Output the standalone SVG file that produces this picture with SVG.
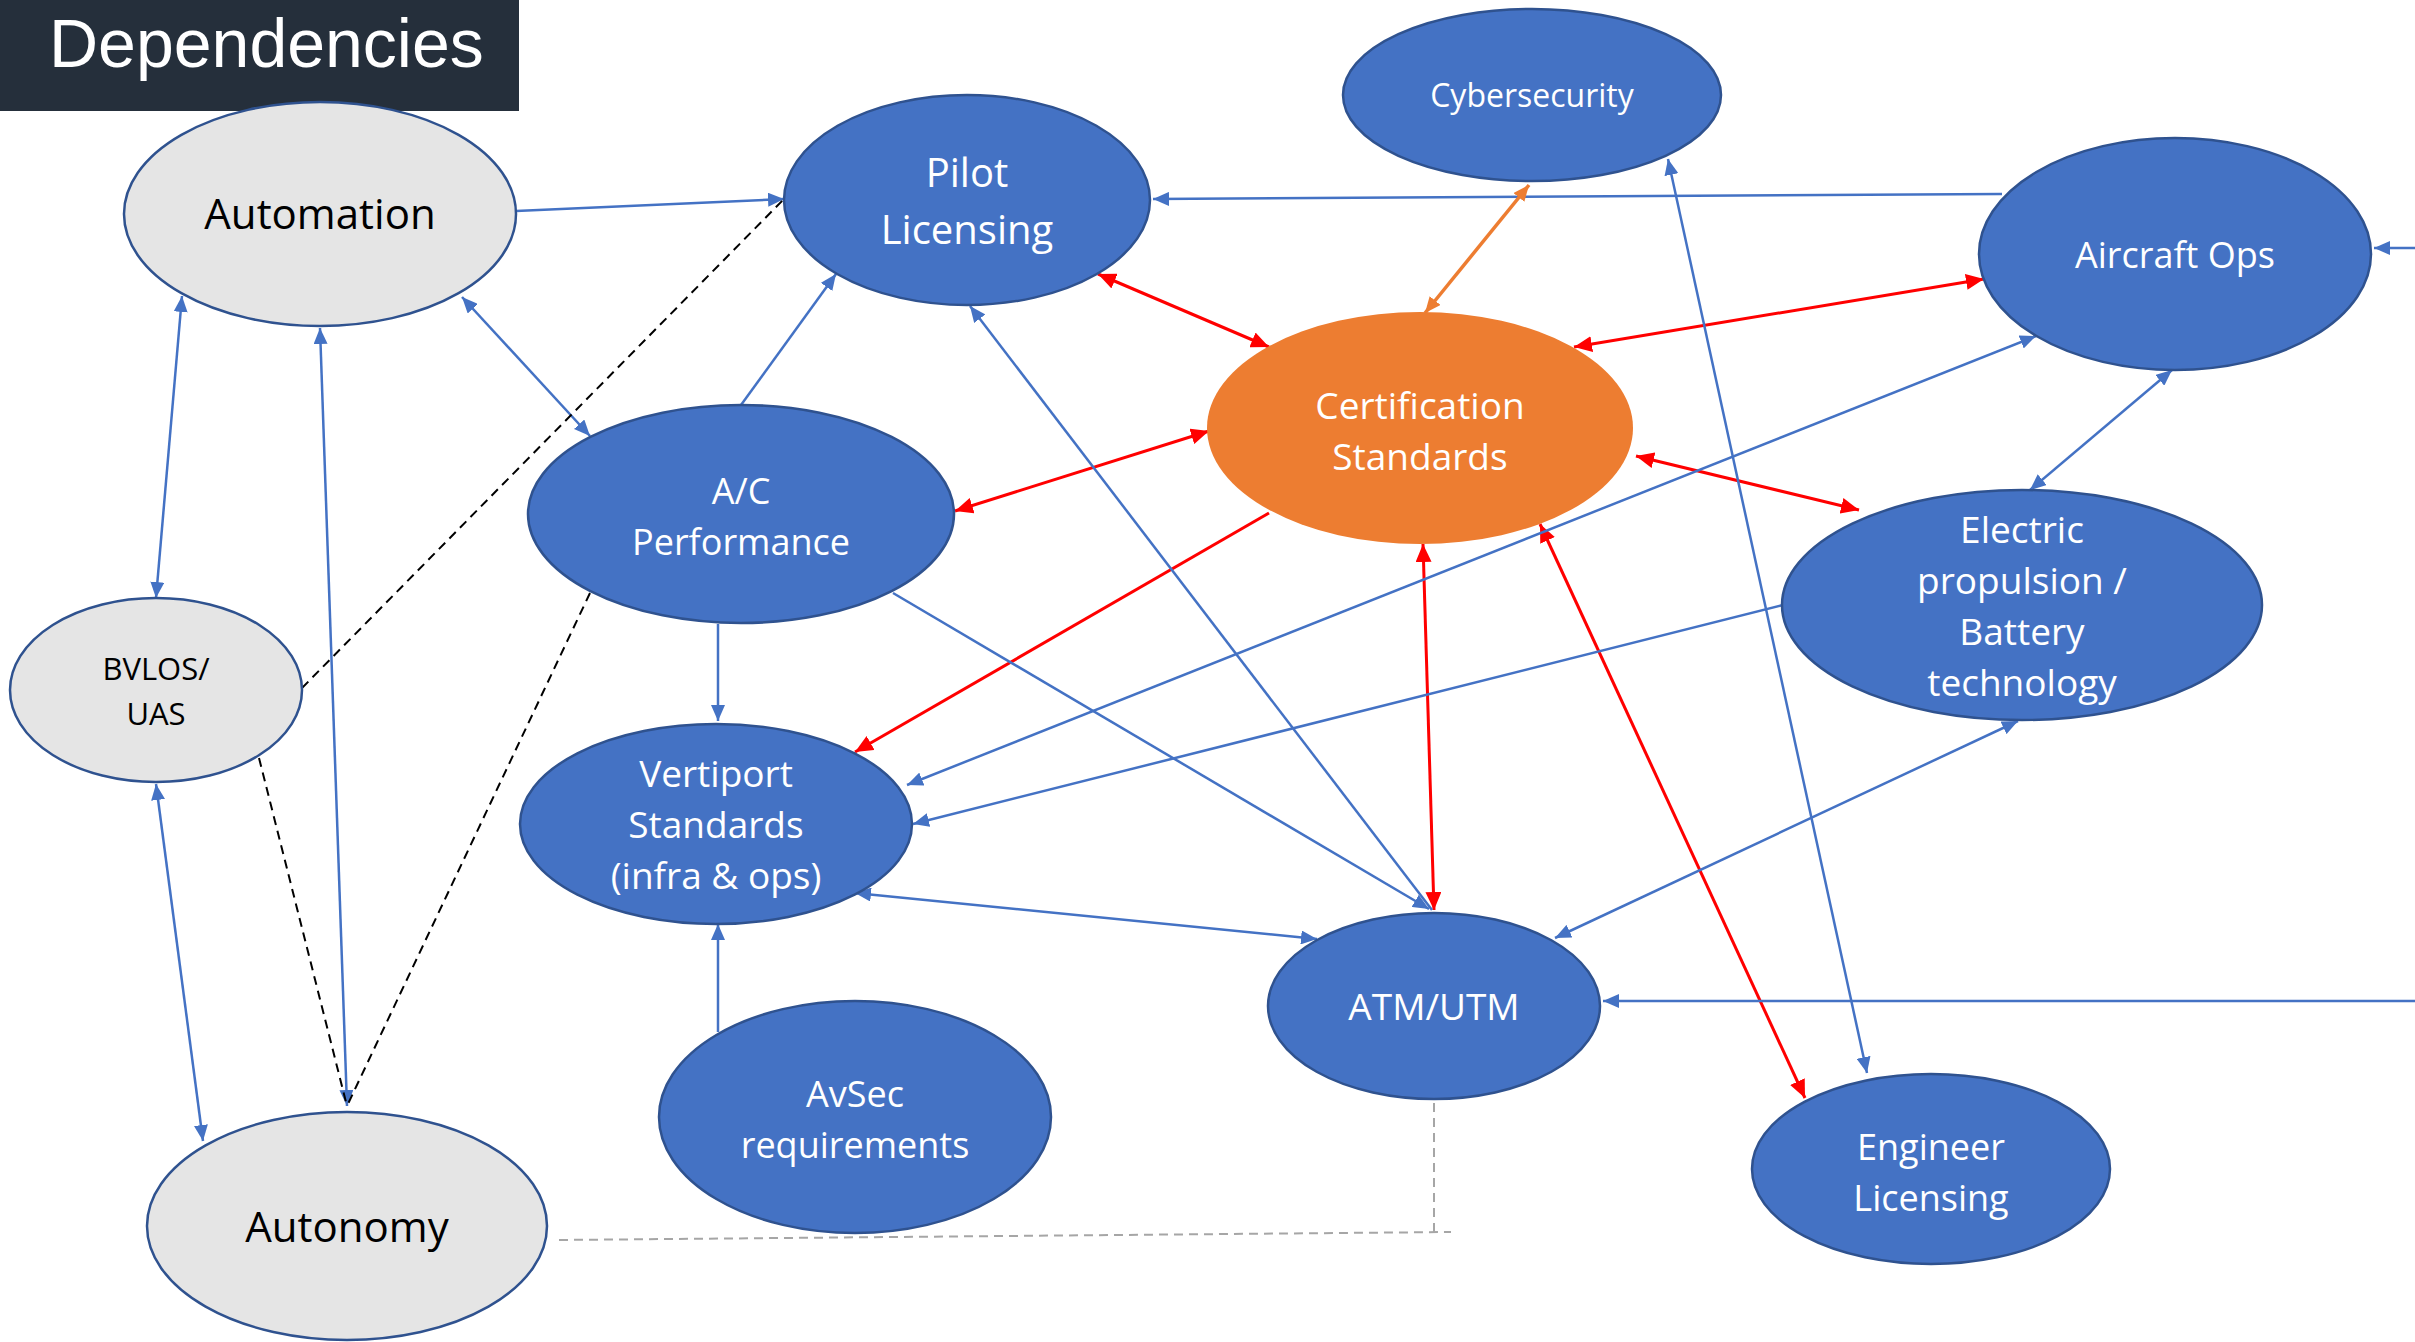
<svg xmlns="http://www.w3.org/2000/svg" width="2415" height="1342" viewBox="0 0 2415 1342">
<style>
.n{fill:#4472C4;stroke:#2F528F;stroke-width:2.5}
.g{fill:#E5E5E5;stroke:#2F528F;stroke-width:2.5}
.o{fill:#ED7D31;stroke:none}
.t{font-family:"Open Sans","Noto Sans",sans-serif;fill:#FFFFFF;text-anchor:middle}
.k{font-family:"Open Sans","Noto Sans",sans-serif;fill:#000000;text-anchor:middle}
.b{stroke:#4472C4;stroke-width:2.5;fill:none}
.r{stroke:#FF0000;stroke-width:3;fill:none}
.or{stroke:#ED7D31;stroke-width:3.5;fill:none}
.d{stroke:#000000;stroke-width:2;stroke-dasharray:9 6;fill:none}
.gd{stroke:#A6A6A6;stroke-width:2;stroke-dasharray:9 6;fill:none}
</style>
<defs>
<marker id="ab" markerUnits="userSpaceOnUse" markerWidth="16" markerHeight="14" refX="16" refY="7" orient="auto-start-reverse"><path d="M0,0 L16,7 L0,14 z" fill="#4472C4"/></marker>
<marker id="ar" markerUnits="userSpaceOnUse" markerWidth="18" markerHeight="16" refX="18" refY="8" orient="auto-start-reverse"><path d="M0,0 L18,8 L0,16 z" fill="#FF0000"/></marker>
<marker id="ao" markerUnits="userSpaceOnUse" markerWidth="16" markerHeight="14" refX="16" refY="7" orient="auto-start-reverse"><path d="M0,0 L16,7 L0,14 z" fill="#ED7D31"/></marker>
</defs>
<rect width="2415" height="1342" fill="#FFFFFF"/>

<g id="connectors">
<line class="b" x1="516" y1="211" x2="784" y2="199" marker-end="url(#ab)"/>
<line class="b" x1="2002" y1="194" x2="1153" y2="199" marker-end="url(#ab)"/>
<line class="or" x1="1529" y1="185" x2="1425" y2="313" marker-start="url(#ao)" marker-end="url(#ao)"/>
<line class="r" x1="1098" y1="274" x2="1269" y2="347" marker-start="url(#ar)" marker-end="url(#ar)"/>
<line class="r" x1="1574" y1="347" x2="1984" y2="279" marker-start="url(#ar)" marker-end="url(#ar)"/>
<line class="r" x1="955" y1="511" x2="1209" y2="431" marker-start="url(#ar)" marker-end="url(#ar)"/>
<line class="r" x1="1636" y1="456" x2="1859" y2="510" marker-start="url(#ar)" marker-end="url(#ar)"/>
<line class="r" x1="1269" y1="513" x2="855" y2="752" marker-end="url(#ar)"/>
<line class="r" x1="1423" y1="544" x2="1434" y2="910" marker-start="url(#ar)" marker-end="url(#ar)"/>
<line class="r" x1="1540" y1="524" x2="1805" y2="1098" marker-start="url(#ar)" marker-end="url(#ar)"/>
<line class="b" x1="182" y1="296" x2="156" y2="598" marker-start="url(#ab)" marker-end="url(#ab)"/>
<line class="b" x1="347" y1="1106" x2="320" y2="328" marker-start="url(#ab)" marker-end="url(#ab)"/>
<line class="b" x1="462" y1="297" x2="590" y2="436" marker-start="url(#ab)" marker-end="url(#ab)"/>
<line class="b" x1="741" y1="405" x2="836" y2="274" marker-end="url(#ab)"/>
<line class="b" x1="156" y1="784" x2="203" y2="1141" marker-start="url(#ab)" marker-end="url(#ab)"/>
<line class="b" x1="1432" y1="910" x2="970" y2="306" marker-end="url(#ab)"/>
<line class="b" x1="893" y1="593" x2="1429" y2="909" marker-end="url(#ab)"/>
<line class="b" x1="718" y1="624" x2="718" y2="721" marker-end="url(#ab)"/>
<line class="b" x1="718" y1="1032" x2="718" y2="924" marker-end="url(#ab)"/>
<line class="b" x1="855" y1="893" x2="1317" y2="939" marker-start="url(#ab)" marker-end="url(#ab)"/>
<line class="b" x1="2036" y1="336" x2="907" y2="785" marker-start="url(#ab)" marker-end="url(#ab)"/>
<line class="b" x1="1783" y1="605" x2="913" y2="824" marker-end="url(#ab)"/>
<line class="b" x1="2030" y1="490" x2="2172" y2="370" marker-start="url(#ab)" marker-end="url(#ab)"/>
<line class="b" x1="2018" y1="721" x2="1555" y2="938" marker-start="url(#ab)" marker-end="url(#ab)"/>
<line class="b" x1="1668" y1="159" x2="1867" y2="1073" marker-start="url(#ab)" marker-end="url(#ab)"/>
<line class="b" x1="2415" y1="1001" x2="1603" y2="1001" marker-end="url(#ab)"/>
<line class="b" x1="2415" y1="248" x2="2374" y2="248" marker-end="url(#ab)"/>
<line class="d" x1="302" y1="688" x2="784" y2="199"/>
<line class="d" x1="259" y1="758" x2="347" y2="1106"/>
<line class="d" x1="590" y1="593" x2="347" y2="1106"/>
<polyline class="gd" points="559,1240 1451,1232"/>
<line class="gd" x1="1434" y1="1232" x2="1434" y2="1100"/>
</g>

<g id="title">
<rect x="0" y="0" width="519" height="111" fill="#252F3B"/>
<text x="49" y="67" font-family="Liberation Sans, Arial, sans-serif" font-size="68" fill="#FFFFFF">Dependencies</text>
</g>

<g id="automation">
<ellipse class="g" cx="320" cy="214" rx="196" ry="112"/>
<text class="k" x="320" y="229" font-size="42">Automation</text>
</g>

<g id="pilot-licensing">
<ellipse class="n" cx="967" cy="200" rx="183" ry="105"/>
<text class="t" x="967" y="187" font-size="40">Pilot</text>
<text class="t" x="967" y="244" font-size="40">Licensing</text>
</g>

<g id="cybersecurity">
<ellipse class="n" cx="1532" cy="95" rx="189" ry="86"/>
<text class="t" x="1532" y="107" font-size="32">Cybersecurity</text>
</g>

<g id="aircraft-ops">
<ellipse class="n" cx="2175" cy="254" rx="196" ry="116"/>
<text class="t" x="2175" y="268" font-size="36">Aircraft Ops</text>
</g>

<g id="certification-standards">
<ellipse class="o" cx="1420" cy="428" rx="213" ry="116"/>
<text class="t" x="1420" y="419" font-size="37">Certification</text>
<text class="t" x="1420" y="470" font-size="37">Standards</text>
</g>

<g id="ac-performance">
<ellipse class="n" cx="741" cy="514" rx="213" ry="109"/>
<text class="t" x="741" y="504" font-size="36">A/C</text>
<text class="t" x="741" y="555" font-size="36">Performance</text>
</g>

<g id="bvlos-uas">
<ellipse class="g" cx="156" cy="690" rx="146" ry="92"/>
<text class="k" x="156" y="680" font-size="31">BVLOS/</text>
<text class="k" x="156" y="725" font-size="31">UAS</text>
</g>

<g id="vertiport-standards">
<ellipse class="n" cx="716" cy="824" rx="196" ry="100"/>
<text class="t" x="716" y="787" font-size="37">Vertiport</text>
<text class="t" x="716" y="838" font-size="37">Standards</text>
<text class="t" x="716" y="889" font-size="37">(infra &amp; ops)</text>
</g>

<g id="electric-propulsion">
<ellipse class="n" cx="2022" cy="605" rx="240" ry="115"/>
<text class="t" x="2022" y="543" font-size="37">Electric</text>
<text class="t" x="2022" y="594" font-size="37">propulsion /</text>
<text class="t" x="2022" y="645" font-size="37">Battery</text>
<text class="t" x="2022" y="696" font-size="37">technology</text>
</g>

<g id="avsec-requirements">
<ellipse class="n" cx="855" cy="1117" rx="196" ry="116"/>
<text class="t" x="855" y="1107" font-size="36">AvSec</text>
<text class="t" x="855" y="1158" font-size="36">requirements</text>
</g>

<g id="atm-utm">
<ellipse class="n" cx="1434" cy="1006" rx="166" ry="93"/>
<text class="t" x="1434" y="1020" font-size="37">ATM/UTM</text>
</g>

<g id="engineer-licensing">
<ellipse class="n" cx="1931" cy="1169" rx="179" ry="95"/>
<text class="t" x="1931" y="1160" font-size="36">Engineer</text>
<text class="t" x="1931" y="1211" font-size="36">Licensing</text>
</g>

<g id="autonomy">
<ellipse class="g" cx="347" cy="1226" rx="200" ry="114"/>
<text class="k" x="347" y="1242" font-size="42">Autonomy</text>
</g>
</svg>
